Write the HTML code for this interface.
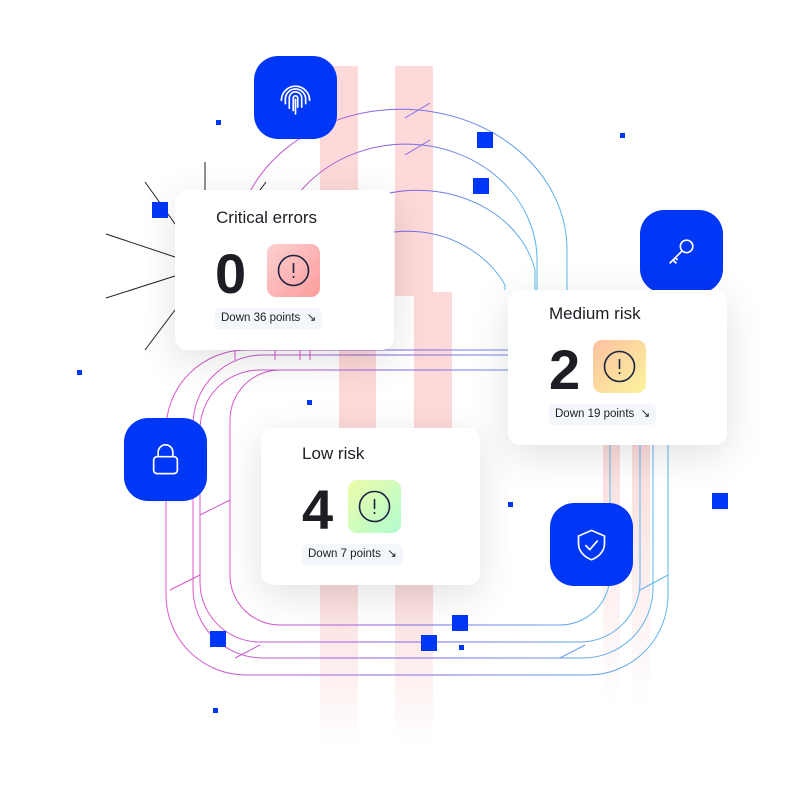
<!DOCTYPE html>
<html><head><style>
body{margin:0;width:810px;height:800px;background:#fff;position:relative;overflow:hidden;font-family:"Liberation Sans",sans-serif}
.a{position:absolute}
.bar{position:absolute;background:#fdd9d9}
.card{position:absolute;background:#fff;border-radius:12px;box-shadow:0 10px 40px rgba(0,0,0,.12)}
.card .t{position:absolute;font-size:17px;color:#1c1e24}
.card .n{position:absolute;font-size:56px;font-weight:bold;color:#1c1e24;line-height:1}
.card .ib{position:absolute;width:53px;height:53px;border-radius:9px}
.card .ib svg{position:absolute;left:10px;top:10px}
.card .bd{position:absolute;height:21px;background:#f3f6fb;border-radius:5px;font-size:11.5px;color:#1c1e24;line-height:21px;padding:0 6px;white-space:nowrap}
.ic{position:absolute;width:83px;height:83px;border-radius:24px;background:#0036f5}
.ic svg{position:absolute;left:24px;top:24px}
.sq{position:absolute;background:#0036f5}
</style></head><body>
<div class="bar" style="left:320px;top:66px;width:38px;height:130px"></div>
<div class="bar" style="left:395px;top:66px;width:38px;height:230px"></div>
<div class="bar" style="left:339px;top:345px;width:37px;height:85px"></div>
<div class="bar" style="left:414px;top:292px;width:38px;height:140px"></div>
<div class="bar" style="left:320px;top:585px;width:38px;height:160px;background:linear-gradient(#fbdcdc,#fff)"></div>
<div class="bar" style="left:395px;top:585px;width:38px;height:160px;background:linear-gradient(#fbdcdc,#fff)"></div>
<div class="bar" style="left:603px;top:445px;width:17px;height:260px;background:linear-gradient(#fbdcdc,#fff)"></div>
<div class="bar" style="left:632px;top:445px;width:18px;height:260px;background:linear-gradient(#fbdcdc,#fff)"></div>
<svg class="a" style="left:0;top:0" width="810" height="800">
<defs><linearGradient id="g" x1="0" y1="0" x2="1" y2="0"><stop offset="0" stop-color="#e056c8"/><stop offset=".5" stop-color="#7a6ae8"/><stop offset="1" stop-color="#5cb8ea"/></linearGradient></defs>
<g fill="none" stroke="url(#g)" stroke-width="1">
<rect x="166" y="350" width="502" height="325" rx="80"/>
<rect x="193" y="355" width="460" height="303" rx="70"/>
<rect x="200" y="370" width="440" height="272" rx="60"/>
<rect x="230" y="370" width="380" height="255" rx="50"/>
<path d="M235 360 V250 A165 140 0 0 1 567 250 V290"/>
<path d="M275 360 V260 A130 115 0 0 1 537 260 V290"/>
<path d="M300 360 V270 A120 100 0 0 1 535 270 V290"/>
<path d="M310 360 V285 A110 100 0 0 1 505 285 V290"/>
<line x1="395" y1="320" x2="508" y2="320"/><line x1="395" y1="336" x2="508" y2="336"/>
<path d="M170 590 L200 575 M200 515 L230 500 M640 590 L668 575 M235 658 L260 645 M560 658 L585 645 M405 118 L430 103 M405 155 L430 140"/>
</g>
<g stroke="#222" stroke-width="1">
<line x1="205" y1="162" x2="205" y2="190"/><line x1="145" y1="182" x2="178" y2="228"/>
<line x1="106" y1="234" x2="175" y2="257"/><line x1="106" y1="298" x2="175" y2="276"/>
<line x1="145" y1="350" x2="175" y2="310"/><line x1="266" y1="182" x2="260" y2="190"/>
</g>
</svg>
<div class="sq" style="left:152px;top:202px;width:16px;height:16px"></div>
<div class="sq" style="left:477px;top:132px;width:16px;height:16px"></div>
<div class="sq" style="left:473px;top:178px;width:16px;height:16px"></div>
<div class="sq" style="left:712px;top:493px;width:16px;height:16px"></div>
<div class="sq" style="left:210px;top:631px;width:16px;height:16px"></div>
<div class="sq" style="left:452px;top:615px;width:16px;height:16px"></div>
<div class="sq" style="left:421px;top:635px;width:16px;height:16px"></div>
<div class="sq" style="left:216px;top:120px;width:5px;height:5px"></div>
<div class="sq" style="left:620px;top:133px;width:5px;height:5px"></div>
<div class="sq" style="left:77px;top:370px;width:5px;height:5px"></div>
<div class="sq" style="left:307px;top:400px;width:5px;height:5px"></div>
<div class="sq" style="left:508px;top:502px;width:5px;height:5px"></div>
<div class="sq" style="left:459px;top:645px;width:5px;height:5px"></div>
<div class="sq" style="left:213px;top:708px;width:5px;height:5px"></div>

<div class="ic" style="left:254px;top:56px"><svg width="35" height="35" viewBox="0 0 31 31" fill="none" stroke="#fff" stroke-width="1.5" stroke-linecap="round"><path d="M3 18 A12.5 12.5 0 0 1 28 18"/><path d="M6.5 21 V17 A9 9 0 0 1 24.5 17 V21"/><path d="M10 25 V16 A5.5 5.5 0 0 1 21 16 V24"/><path d="M13.5 27 V16 A2 2 0 0 1 17.5 16 V24"/><path d="M15.5 17 V30"/></svg></div>
<div class="ic" style="left:640px;top:210px"><svg width="35" height="35" viewBox="0 0 31 31" fill="none" stroke="#fff" stroke-width="1.5"><circle cx="20" cy="11" r="5.5"/><path d="M16 15 L5 26 M8 23 L11 26 M10 21 L12 23"/></svg></div>
<div class="ic" style="left:124px;top:418px"><svg width="35" height="35" viewBox="0 0 31 31" fill="none" stroke="#fff" stroke-width="1.5"><rect x="5" y="13" width="21" height="15" rx="3"/><path d="M9 13 V9 A6.5 6.5 0 0 1 22 9 V13"/></svg></div>
<div class="ic" style="left:550px;top:503px"><svg width="35" height="35" viewBox="0 0 31 31" fill="none" stroke="#fff" stroke-width="1.5"><path d="M15.5 3 L27 8 V15 C27 22 21 27 15.5 29 C10 27 4 22 4 15 V8 Z"/><path d="M10 16 L14 20 L21 12"/></svg></div>

<div class="card" style="left:175px;top:190px;width:219px;height:160px">
<div class="t" style="left:41px;top:18px">Critical errors</div>
<div class="n" style="left:40px;top:56px">0</div>
<div class="ib" style="left:92px;top:54px;background:linear-gradient(135deg,#fcd0d0,#fc9c9c)"><svg width="33" height="33" fill="none" stroke="#1c2340" stroke-width="1.6"><circle cx="16.5" cy="16.5" r="15"/><path d="M16.5 9 V19 M16.5 22 V24"/></svg></div>
<div class="bd" style="left:40px;top:118px">Down 36 points &nbsp;↘</div>
</div>
<div class="card" style="left:508px;top:290px;width:219px;height:155px">
<div class="t" style="left:41px;top:14px">Medium risk</div>
<div class="n" style="left:41px;top:52px">2</div>
<div class="ib" style="left:85px;top:50px;background:linear-gradient(135deg,#fcc0a0,#fbf59c)"><svg width="33" height="33" fill="none" stroke="#1c2340" stroke-width="1.6"><circle cx="16.5" cy="16.5" r="15"/><path d="M16.5 9 V19 M16.5 22 V24"/></svg></div>
<div class="bd" style="left:41px;top:114px">Down 19 points &nbsp;↘</div>
</div>
<div class="card" style="left:261px;top:428px;width:219px;height:157px">
<div class="t" style="left:41px;top:16px">Low risk</div>
<div class="n" style="left:41px;top:54px">4</div>
<div class="ib" style="left:87px;top:52px;background:linear-gradient(135deg,#eefca8,#b0fcd0)"><svg width="33" height="33" fill="none" stroke="#1c2340" stroke-width="1.6"><circle cx="16.5" cy="16.5" r="15"/><path d="M16.5 9 V19 M16.5 22 V24"/></svg></div>
<div class="bd" style="left:41px;top:116px">Down 7 points &nbsp;↘</div>
</div>
</body></html>
